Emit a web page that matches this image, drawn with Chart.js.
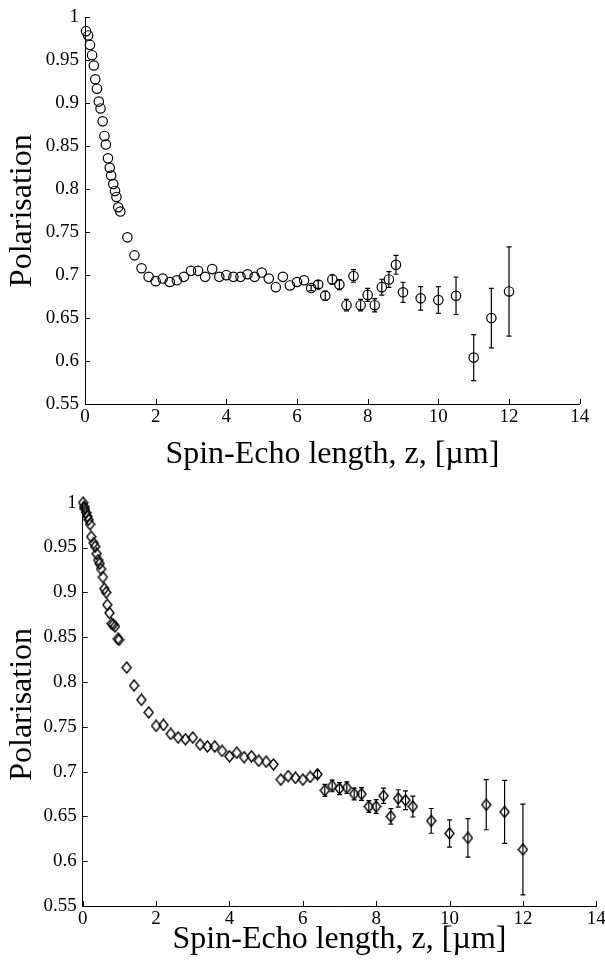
<!DOCTYPE html>
<html><head><meta charset="utf-8">
<script src="https://cdn.jsdelivr.net/npm/chart.js@4.4.0/dist/chart.umd.min.js"></script>
<style>
html,body{margin:0;padding:0;background:#fff;overflow:hidden;width:605px;height:962px;}
#wrap{position:relative;width:605px;height:962px;overflow:hidden;background:#fff;}
canvas{position:absolute;left:0;}
</style></head><body>
<div id="wrap">
<canvas id="c1" width="620" height="484" style="top:0px;width:620px;height:484px"></canvas>
<canvas id="c2" width="620" height="506" style="top:480px;width:620px;height:506px"></canvas>
</div>
<script>
const xTickValues = [0, 2, 4, 6, 8, 10, 12, 14];
const xTickLabels = ['0', '2', '4', '6', '8', '10', '12', '14'];
const yTickValues = [0.55, 0.6, 0.65, 0.7, 0.75, 0.8, 0.85, 0.9, 0.95, 1];
const yTickLabels = ['0.55', '0.6', '0.65', '0.7', '0.75', '0.8', '0.85', '0.9', '0.95', '1'];
const xTitle = 'Spin-Echo length, z, [\u00b5m]';
const yTitle = 'Polarisation';

// Top panel (circles)
const zTop = [0.03,0.09,0.14,0.2,0.25,0.29,0.34,0.39,0.44,0.5,0.55,0.59,0.65,0.7,0.74,0.8,0.85,0.89,0.94,1.0,
  1.2,1.4,1.6,1.8,2.0,2.2,2.4,2.6,2.8,3.0,3.2,3.4,3.6,3.8,4.0,4.2,4.4,4.6,4.8,5.0,5.2,5.4,5.6,5.8,6.0,6.2,
  6.4,6.6,6.8,7.0,7.2,7.4,7.6,7.8,8.0,8.2,8.4,8.6,8.8,9.0,
  9.5,10.0,10.5,11.0,11.5,12.0];
const polTop = [0.984,0.979,0.968,0.956,0.944,0.928,0.917,0.902,0.894,0.879,0.862,0.852,0.836,0.825,0.816,0.806,0.798,0.791,0.779,0.774,
  0.744,0.723,0.708,0.698,0.693,0.696,0.692,0.694,0.698,0.705,0.705,0.698,0.707,0.698,0.700,0.698,0.698,0.701,0.698,0.703,0.696,0.686,0.698,0.688,0.692,0.694,
  0.685,0.689,0.676,0.695,0.689,0.665,0.699,0.665,0.677,0.665,0.686,0.695,0.712,0.680,
  0.673,0.671,0.676,0.604,0.650,0.681];
const errTop = [0,0,0,0,0,0,0,0,0,0,0,0,0,0,0,0,0,0,0,0,
  0,0,0,0,0,0,0,0,0,0,0,0,0,0,0,0,0,0,0,0,0,0,0,0,0,0,
  0.003,0.0045,0.0054,0.0054,0.0058,0.0067,0.0073,0.0067,0.0075,0.0077,0.0092,0.0092,0.011,0.0117,
  0.0137,0.0156,0.0218,0.0268,0.0347,0.052];

// Bottom panel (diamonds)
const zBottom = [0.01,0.04,0.06,0.09,0.13,0.16,0.2,0.23,0.3,0.34,0.38,0.42,0.46,0.5,0.55,0.59,0.64,0.67,0.73,0.79,0.83,0.88,0.96,0.99,
  1.2,1.4,1.6,1.8,2.0,2.2,2.4,2.6,2.8,3.0,3.2,3.4,3.6,3.8,4.0,4.2,4.4,4.6,4.8,5.0,5.2,5.4,5.6,5.8,6.0,6.2,
  6.4,6.6,6.8,7.0,7.2,7.4,7.6,7.8,8.0,8.2,8.4,8.6,8.8,9.0,
  9.5,10.0,10.5,11.0,11.5,12.0];
const polBottom = [1.0,0.9955,0.993,0.989,0.985,0.981,0.976,0.962,0.955,0.951,0.943,0.936,0.932,0.926,0.917,0.904,0.900,0.886,0.877,0.865,0.864,0.862,0.848,0.847,
  0.816,0.796,0.780,0.766,0.751,0.752,0.742,0.738,0.736,0.738,0.730,0.728,0.728,0.723,0.717,0.721,0.716,0.717,0.712,0.711,0.708,0.691,0.695,0.693,0.691,0.694,
  0.697,0.679,0.684,0.681,0.682,0.675,0.675,0.661,0.661,0.673,0.650,0.670,0.668,0.661,
  0.645,0.631,0.626,0.663,0.655,0.613];
const errBottom = [0,0,0,0,0,0,0,0,0,0,0,0,0,0,0,0,0,0,0,0,0,0,0,0,
  0,0,0,0,0,0,0,0,0,0,0,0,0,0,0,0,0,0,0,0,0,0,0,0,0,0,
  0.004,0.0067,0.0065,0.0067,0.0065,0.0065,0.0071,0.0065,0.0076,0.0086,0.0086,0.0097,0.0104,0.0117,
  0.0138,0.0152,0.0214,0.0279,0.0351,0.0506];

const FONT = "'Liberation Serif', 'Times New Roman', serif";

function diamondImage(w, h) {
  const c = document.createElement('canvas');
  c.width = w + 2; c.height = h + 2;
  const g = c.getContext('2d');
  g.strokeStyle = '#000'; g.lineWidth = 1.4;
  g.beginPath();
  g.moveTo(c.width / 2, 1);
  g.lineTo(c.width - 1, c.height / 2);
  g.lineTo(c.width / 2, c.height - 1);
  g.lineTo(1, c.height / 2);
  g.closePath(); g.stroke();
  return c;
}

const errPlugin = {
  id: 'errbars',
  afterDatasetsDraw(chart) {
    const {ctx, scales: {x, y}} = chart;
    chart.data.datasets.forEach(ds => {
      if (!ds.errors) return;
      ctx.save();
      ctx.strokeStyle = '#000'; ctx.lineWidth = 1.2;
      ds.data.forEach((p, i) => {
        const e = ds.errors[i];
        if (!e) return;
        const px = x.getPixelForValue(p.x);
        const y1 = y.getPixelForValue(p.y - e), y2 = y.getPixelForValue(p.y + e);
        ctx.beginPath();
        ctx.moveTo(px, y1); ctx.lineTo(px, y2);
        ctx.moveTo(px - 2.5, y1); ctx.lineTo(px + 2.5, y1);
        ctx.moveTo(px - 2.5, y2); ctx.lineTo(px + 2.5, y2);
        ctx.stroke();
      });
      ctx.restore();
    });
  }
};

const inTicksPlugin = {
  id: 'inticks',
  afterDraw(chart) {
    const {ctx, chartArea: a, scales: {x, y}} = chart;
    ctx.save();
    ctx.strokeStyle = '#000'; ctx.lineWidth = 1;
    ctx.beginPath();
    x.ticks.forEach(t => {
      const px = Math.round(x.getPixelForValue(t.value)) + 0.5;
      ctx.moveTo(px, a.bottom); ctx.lineTo(px, a.bottom - 5);
    });
    y.ticks.forEach(t => {
      const py = Math.round(y.getPixelForValue(t.value)) + 0.5;
      ctx.moveTo(a.left, py); ctx.lineTo(a.left + 5, py);
    });
    ctx.stroke();
    ctx.restore();
  }
};

function makeChart(id, xs, ys, errs, o) {
  const data = xs.map((v, i) => ({x: v, y: ys[i]}));
  return new Chart(document.getElementById(id), {
    type: 'scatter',
    data: {datasets: [{
      data, errors: errs,
      pointStyle: o.pointStyle, pointRadius: o.radius,
      borderColor: '#000', backgroundColor: 'rgba(0,0,0,0)', borderWidth: 1.2,
      clip: false
    }]},
    options: {
      responsive: false, animation: false, devicePixelRatio: 1, events: [],
      layout: {padding: {left: 0, top: o.top, right: o.right, bottom: 0}},
      plugins: {legend: {display: false}, tooltip: {enabled: false}},
      scales: {
        x: {
          type: 'linear', min: 0, max: 14,
          grid: {display: false, drawTicks: false},
          border: {display: true, color: '#000', width: 1},
          afterBuildTicks: s => { s.ticks = xTickValues.map(v => ({value: v})); },
          ticks: {color: '#000', padding: 2, font: {family: FONT, size: 19}, maxRotation: 0, autoSkip: false,
                  callback: (v, i) => xTickLabels[i]},
          title: {display: true, text: xTitle, color: '#000', font: {family: FONT, size: 32}, padding: {top: 0, bottom: o.xTitlePad}},
          afterFit: s => { s.height = 80; }
        },
        y: {
          type: 'linear', min: 0.55, max: 1,
          grid: {display: false, drawTicks: false},
          border: {display: true, color: '#000', width: 1},
          afterBuildTicks: s => { s.ticks = yTickValues.map(v => ({value: v})); },
          ticks: {color: '#000', padding: 6, font: {family: FONT, size: 19}, autoSkip: false,
                  callback: (v, i) => yTickLabels[i]},
          title: {display: true, text: yTitle, color: '#000', font: {family: FONT, size: 32}, padding: {top: 3, bottom: 0}},
          afterFit: s => { s.width = o.yWidth; }
        }
      }
    },
    plugins: [errPlugin, inTicksPlugin]
  });
}

makeChart('c1', zTop, polTop, errTop, {pointStyle: 'circle', radius: 4.7, top: 14.3, right: 40.3, yWidth: 85, xTitlePad: 10});
makeChart('c2', zBottom, polBottom, errBottom, {pointStyle: diamondImage(9, 11), radius: 5, top: 22.7, right: 23.7, yWidth: 82.7, xTitlePad: 27});
</script>
</body></html>
